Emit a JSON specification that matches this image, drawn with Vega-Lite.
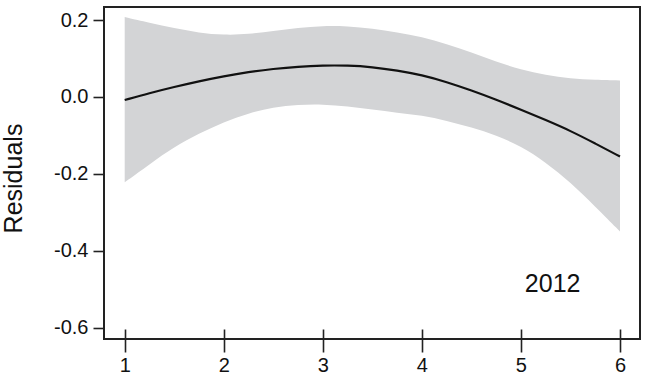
{
  "$schema": "https://vega.github.io/schema/vega-lite/v6.json",
  "width": 536,
  "height": 332,
  "autosize": {"type": "none"},
  "padding": {"left": 104, "top": 7, "right": 10, "bottom": 44},
  "config": {
    "view": {"stroke": "#222", "strokeWidth": 2},
    "font": "Liberation Sans",
    "axis": {"grid": false, "domain": false, "tickColor": "#222", "tickWidth": 1.6, "labelColor": "#111", "labelFont": "Liberation Sans", "titleFont": "Liberation Sans", "titleFontWeight": "normal", "titleColor": "#111"}
  },
  "datasets": {
    "fit": [
      {"x": 1, "fit": -0.008, "lo": -0.222, "hi": 0.208},
      {"x": 1.25, "fit": 0.010, "lo": -0.175, "hi": 0.193},
      {"x": 1.5, "fit": 0.026, "lo": -0.130, "hi": 0.179},
      {"x": 1.75, "fit": 0.041, "lo": -0.095, "hi": 0.167},
      {"x": 2, "fit": 0.054, "lo": -0.065, "hi": 0.161},
      {"x": 2.25, "fit": 0.065, "lo": -0.042, "hi": 0.163},
      {"x": 2.5, "fit": 0.073, "lo": -0.027, "hi": 0.172},
      {"x": 2.75, "fit": 0.079, "lo": -0.020, "hi": 0.180},
      {"x": 3, "fit": 0.082, "lo": -0.019, "hi": 0.185},
      {"x": 3.25, "fit": 0.082, "lo": -0.024, "hi": 0.184},
      {"x": 3.5, "fit": 0.078, "lo": -0.033, "hi": 0.178},
      {"x": 3.75, "fit": 0.069, "lo": -0.041, "hi": 0.168},
      {"x": 4, "fit": 0.057, "lo": -0.048, "hi": 0.156},
      {"x": 4.25, "fit": 0.039, "lo": -0.062, "hi": 0.138},
      {"x": 4.5, "fit": 0.017, "lo": -0.079, "hi": 0.116},
      {"x": 4.75, "fit": -0.007, "lo": -0.100, "hi": 0.092},
      {"x": 5, "fit": -0.033, "lo": -0.128, "hi": 0.071},
      {"x": 5.25, "fit": -0.060, "lo": -0.170, "hi": 0.057},
      {"x": 5.5, "fit": -0.088, "lo": -0.222, "hi": 0.048},
      {"x": 5.75, "fit": -0.121, "lo": -0.285, "hi": 0.044},
      {"x": 6, "fit": -0.155, "lo": -0.350, "hi": 0.043}
    ],
    "label": [{"x": 5.32, "y": -0.486, "text": "2012"}]
  },
  "layer": [
    {
      "data": {"name": "fit"},
      "mark": {"type": "area", "color": "#d3d4d6", "interpolate": "basis", "opacity": 1},
      "encoding": {
        "x": {"field": "x", "type": "quantitative", "scale": {"domain": [0.791, 6.202], "nice": false, "zero": false},
          "axis": {"values": [1, 2, 3, 4, 5, 6], "format": "d", "title": null, "offset": -10, "tickSize": 23, "labelFontSize": 20, "labelPadding": 3, "labelFlush": false}},
        "y": {"field": "lo", "type": "quantitative", "scale": {"domain": [-0.6295, 0.234], "nice": false, "zero": false},
          "axis": {"values": [-0.6, -0.4, -0.2, 0, 0.2], "labelExpr": "replace(format(datum.value, '.1f'), '\u2212', '-')", "tickSize": 11, "labelFontSize": 20, "labelPadding": 5, "title": "Residuals", "titleFontSize": 25, "titleX": -91, "titleY": 171, "titleAngle": 270, "titleBaseline": "middle", "titleAlign": "center"}},
        "y2": {"field": "hi"}
      }
    },
    {
      "data": {"name": "fit"},
      "mark": {"type": "line", "color": "#111", "strokeWidth": 2.2, "interpolate": "basis"},
      "encoding": {
        "x": {"field": "x", "type": "quantitative"},
        "y": {"field": "fit", "type": "quantitative"}
      }
    },
    {
      "data": {"name": "label"},
      "mark": {"type": "text", "fontSize": 25, "color": "#111", "align": "center", "baseline": "middle", "font": "Liberation Sans"},
      "encoding": {
        "x": {"field": "x", "type": "quantitative"},
        "y": {"field": "y", "type": "quantitative"},
        "text": {"field": "text"}
      }
    }
  ]
}
